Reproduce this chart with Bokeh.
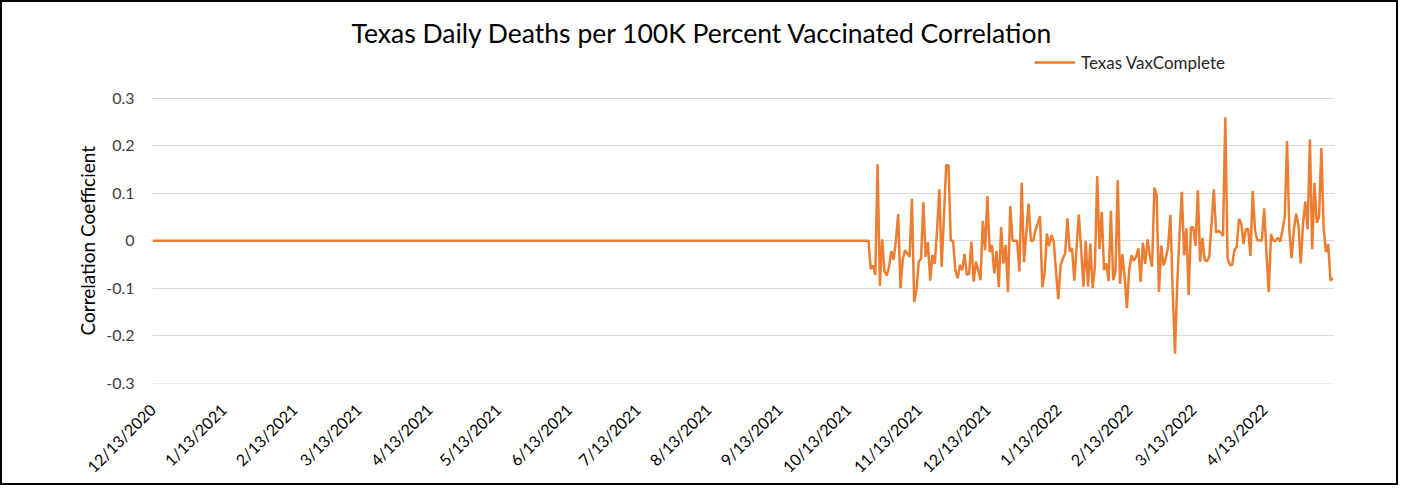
import math
import pandas as pd
from bokeh.plotting import figure
from bokeh.models import (Range1d, FixedTicker, CustomJSTickFormatter,
                          Label, Legend, LegendItem, ColumnDataSource, Title)
from bokeh.embed import file_html
from bokeh.resources import INLINE

# ---------------- data ----------------
title_text = "Texas Daily Deaths per 100K Percent Vaccinated Correlation"
series_name = "Texas VaxComplete"
y_axis_title = "Correlation Coefficient"

start_date = "2020-12-13"
end_date = "2022-05-13"
zero_days = 314  # correlation is flat 0 from 12/13/2020 through 10/22/2021

# daily correlation readings, 10/23/2021 .. 5/13/2022
readings = [
    -0.060, -0.052, -0.072, 0.161, -0.095, 0.003, -0.065, -0.073, -0.055, -0.022,
    -0.040, 0.000, 0.056, -0.100, -0.040, -0.020, -0.027, -0.034, 0.088, -0.129,
    -0.103, -0.044, -0.038, 0.081, -0.034, -0.003, -0.084, -0.030, -0.049, 0.022,
    0.108, -0.055, 0.050, 0.159, 0.159, 0.000, 0.000, -0.062, -0.079, -0.051,
    -0.062, -0.028, -0.072,
    -0.069, -0.002, -0.086, -0.044, -0.062, -0.083, 0.042, -0.020, 0.094, -0.024,
    -0.009, -0.069, -0.022, -0.098, 0.029, -0.048, -0.009, -0.108, 0.073, 0.000,
    0.000, 0.000, -0.065, 0.122, -0.045, 0.015, 0.078, 0.000, 0.000, 0.022,
    0.036, 0.052, -0.098, -0.069, 0.015, -0.011, 0.012, -0.002, -0.065, -0.123,
    -0.052, -0.037, -0.027, 0.047, -0.023, -0.016, -0.084, -0.013, 0.055, -0.020,
    -0.097, 0.000, -0.097, -0.006, -0.100, -0.055, 0.136, -0.018, 0.061, -0.062,
    -0.048, -0.085, 0.063, -0.083, -0.065, 0.127, -0.091, -0.028, -0.076, -0.142,
    -0.062, -0.031, -0.042, -0.034, -0.016, -0.087, -0.004, -0.049, 0.003, -0.031,
    -0.055, 0.112, 0.096, -0.108, -0.010, -0.052, -0.037, -0.013, 0.054, -0.103,
    -0.238, -0.090, 0.012, 0.103, -0.031, 0.026, -0.114, 0.029, 0.028, -0.011,
    0.106,
    -0.044, 0.006, -0.041, -0.043, -0.034, 0.036, 0.108, 0.017, 0.021, 0.017,
    0.010, 0.260, -0.037, -0.051, -0.051, -0.020, -0.013, 0.046, 0.036, -0.007,
    0.024, 0.025, -0.032, 0.105, 0.022, 0.001, 0.001, 0.000, 0.068, -0.025,
    -0.108, 0.014, 0.000, 0.000, 0.006, -0.002, 0.022, 0.050, 0.210, 0.022,
    -0.037, 0.024, 0.057, 0.033, -0.048, 0.036, 0.082, 0.024, 0.213, -0.018,
    0.122, 0.038, 0.050, 0.195, 0.028, -0.024, -0.007, -0.084, -0.079,
]

tick_dates = [
    "2020-12-13", "2021-01-13", "2021-02-13", "2021-03-13", "2021-04-13",
    "2021-05-13", "2021-06-13", "2021-07-13", "2021-08-13", "2021-09-13",
    "2021-10-13", "2021-11-13", "2021-12-13", "2022-01-13", "2022-02-13",
    "2022-03-13", "2022-04-13",
]
y_ticks = [-0.3, -0.2, -0.1, 0, 0.1, 0.2, 0.3]

# ---------------- layout constants ----------------
FONT = "Lato"
W, H = 1398, 485                  # + 2px CSS border each side = 1402 x 489
BORDER_L, BORDER_R, BORDER_B = 150, 66, 104
FRAME_H = H - BORDER_B            # frame runs to the top of the canvas
PX_PER_UNIT = 475.0               # 0.1 of correlation = 47.5 px
y_start = -0.3 - 0.3 / PX_PER_UNIT
y_end = y_start + FRAME_H / PX_PER_UNIT

# ---------------- build ----------------
dates = pd.date_range(start_date, end_date, freq="D")
values = [0.0] * zero_days + readings
n = min(len(dates), len(values))
src = ColumnDataSource(dict(date=dates[:n], value=values[:n]))

x_start = pd.Timestamp(start_date)
x_end = pd.Timestamp(end_date) + pd.Timedelta(hours=18)

p = figure(width=W, height=H, x_axis_type="datetime",
           output_backend="svg", toolbar_location=None,
           x_range=Range1d(x_start, x_end), y_range=Range1d(y_start, y_end),
           min_border_left=BORDER_L, min_border_right=BORDER_R,
           min_border_top=0, min_border_bottom=BORDER_B,
           styles={"border": "2px solid black"})
p.outline_line_color = None
p.background_fill_color = "white"
p.border_fill_color = "white"

r = p.line(x="date", y="value", source=src, line_color="#ED7D31", line_width=2.5)

# grid
p.xgrid.visible = False
p.ygrid.ticker = FixedTicker(ticks=y_ticks)
p.ygrid.grid_line_color = "#D9D9D9"
p.ygrid.grid_line_width = 1

# y axis
ya = p.yaxis[0]
ya.ticker = FixedTicker(ticks=y_ticks)
ya.formatter = CustomJSTickFormatter(code="return tick == 0 ? '0' : tick.toFixed(1);")
ya.axis_line_color = None
ya.major_tick_line_color = None
ya.minor_tick_line_color = None
ya.major_tick_out = 0
ya.major_tick_in = 0
ya.major_label_standoff = 18
ya.major_label_text_font = FONT
ya.major_label_text_font_size = "16px"
ya.major_label_text_color = "#404040"

# y axis title, placed in the left panel so that it sits beside -0.3..0.3
p.add_layout(Title(text=y_axis_title, align="left", offset=48, standoff=10,
                   text_font=FONT, text_font_style="normal",
                   text_font_size="19px", text_color="black"), "left")

# x axis
xa = p.xaxis[0]
xa.ticker = FixedTicker(ticks=[pd.Timestamp(d).value // 10**6 for d in tick_dates])
xa.formatter = CustomJSTickFormatter(code="""
const d = new Date(tick);
return (d.getUTCMonth() + 1) + '/' + d.getUTCDate() + '/' + d.getUTCFullYear();
""")
xa.axis_line_color = None
xa.major_tick_line_color = None
xa.minor_tick_line_color = None
xa.major_tick_out = 0
xa.major_tick_in = 0
xa.major_label_orientation = math.pi / 4
xa.major_label_standoff = 23
xa.major_label_text_font = FONT
xa.major_label_text_font_size = "16px"
xa.major_label_text_color = "black"

# chart title (inside the frame's empty top band, screen units from frame bottom-left)
p.add_layout(Label(x=550, y=FRAME_H - 30.5, x_units="screen", y_units="screen",
                   text=title_text, text_align="center", text_baseline="alphabetic",
                   text_font=FONT, text_font_size="26.5px", text_color="black"))

# legend
legend = Legend(items=[LegendItem(label=series_name, renderers=[r])],
                location=(882, FRAME_H - 70.7), glyph_width=41, glyph_height=20,
                label_standoff=6, padding=0, margin=0, spacing=0,
                border_line_color=None, background_fill_alpha=0,
                label_text_font=FONT, label_text_font_size="17px",
                label_text_color="#262626")
p.add_layout(legend)

open("out.html", "w").write(file_html(p, INLINE))
